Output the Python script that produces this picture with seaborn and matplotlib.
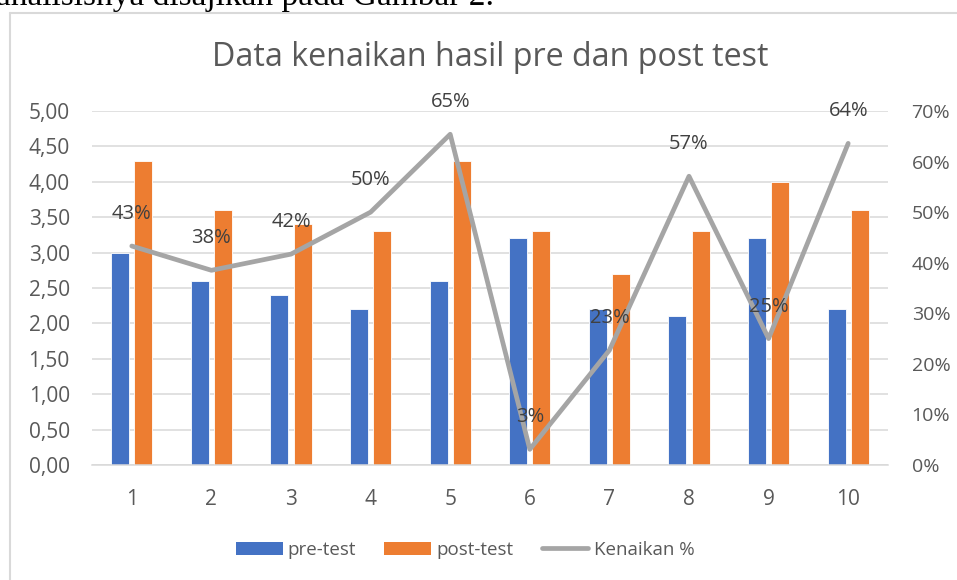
import matplotlib
matplotlib.use("Agg")
import matplotlib.pyplot as plt
from matplotlib.lines import Line2D
from matplotlib.patches import Patch
import seaborn as sns
import pandas as pd

categories = ["1", "2", "3", "4", "5", "6", "7", "8", "9", "10"]
pre_test = [3.0, 2.6, 2.4, 2.2, 2.6, 3.2, 2.2, 2.1, 3.2, 2.2]
post_test = [4.3, 3.6, 3.4, 3.3, 4.3, 3.3, 2.7, 3.3, 4.0, 3.6]
kenaikan = [43.3, 38.5, 41.7, 50.0, 65.4, 3.1, 22.7, 57.1, 25.0, 63.6]
kenaikan_labels = ["43%", "38%", "42%", "50%", "65%", "3%", "23%", "57%", "25%", "64%"]
left_ticks = [0.0, 0.5, 1.0, 1.5, 2.0, 2.5, 3.0, 3.5, 4.0, 4.5, 5.0]
right_ticks = [0, 10, 20, 30, 40, 50, 60, 70]

sns.set_theme(style="white")
plt.rcParams['font.family'] = ['Open Sans', 'DejaVu Sans']

BLUE = "#4472C4"
ORANGE = "#ED7D31"
GRAY = "#A5A5A5"
TXT = "#595959"

df = pd.DataFrame({
    "cat": categories * 2,
    "val": pre_test + post_test,
    "series": ["pre-test"] * len(categories) + ["post-test"] * len(categories),
})

W, H = 957, 580
fig = plt.figure(figsize=(W / 100, H / 100), dpi=100)
ax = fig.add_axes([92 / W, 1 - 465 / H, (888 - 92) / W, (465 - 111) / H])

sns.barplot(data=df, x="cat", y="val", hue="series", order=categories,
            hue_order=["pre-test", "post-test"], palette=[BLUE, ORANGE],
            width=0.58, gap=0.22, ax=ax, legend=False, saturation=1,
            edgecolor="white", linewidth=0.6)

ax.set_ylim(0, 5.0)
ax.set_xlim(-0.5, len(categories) - 0.5)
ax.set_yticks(left_ticks)
ax.set_yticklabels([f"{t:.2f}".replace(".", ",") for t in left_ticks])
ax.yaxis.grid(True, color="#D9D9D9", linewidth=1.1)
ax.set_axisbelow(True)
for s in ["top", "right", "left"]:
    ax.spines[s].set_visible(False)
ax.spines["bottom"].set_color("#D9D9D9")
ax.spines["bottom"].set_linewidth(1.1)
ax.tick_params(axis="both", length=0, labelsize=15, labelcolor=TXT)
ax.tick_params(axis="y", pad=16)
ax.tick_params(axis="x", pad=17)
ax.set_xlabel("")
ax.set_ylabel("")

ax2 = ax.twinx()
ax2.set_zorder(ax.get_zorder() + 1)
ax2.patch.set_visible(False)
sns.lineplot(x=list(range(len(categories))), y=kenaikan, ax=ax2, color=GRAY,
             linewidth=3.4, legend=False)
ax2.set_ylim(0, 70)
ax2.set_yticks(right_ticks)
ax2.set_yticklabels([f"{t}%" for t in right_ticks])
ax2.tick_params(axis="y", length=0, labelsize=14, labelcolor=TXT, pad=17)
for s in ["top", "right", "left", "bottom"]:
    ax2.spines[s].set_visible(False)
ax2.grid(False)

for i, (v, lab) in enumerate(zip(kenaikan, kenaikan_labels)):
    ax2.annotate(lab, (i, v), xytext=(0, 23), textcoords="offset points",
                 ha="center", va="center", fontsize=14.5, color="#404040")

fig.text(490 / W, 1 - 58 / H, "Data kenaikan hasil pre dan post test",
         ha="center", va="center", fontsize=23.2, color=TXT)

handles = [Patch(facecolor=BLUE, edgecolor="none"),
           Patch(facecolor=ORANGE, edgecolor="none"),
           Line2D([0], [0], color=GRAY, linewidth=3.4, solid_capstyle="round")]
fig.legend(handles, ["pre-test", "post-test", "Kenaikan %"],
           loc="center", bbox_to_anchor=(465 / W, 1 - 550 / H), ncol=3,
           frameon=False, fontsize=13.5, labelcolor=TXT,
           handlelength=2.5, handleheight=0.7, columnspacing=1.5,
           handletextpad=0.27)

# document frame and cut-off caption
fig.add_artist(Line2D([9.5 / W, 9.5 / W], [0, 1 - 13 / H], color="#D9D9D9",
                      linewidth=1.5, transform=fig.transFigure))
fig.add_artist(Line2D([9.5 / W, 1], [1 - 13 / H, 1 - 13 / H], color="#D9D9D9",
                      linewidth=1.5, transform=fig.transFigure))
fig.text(-4 / W, 1 - 5 / H, "analisisnya disajikan pada Gambar 2.",
         ha="left", va="baseline", fontsize=24, color="black",
         family=["Liberation Serif", "DejaVu Serif"])

fig.savefig("out.png", dpi=100, facecolor="white")
